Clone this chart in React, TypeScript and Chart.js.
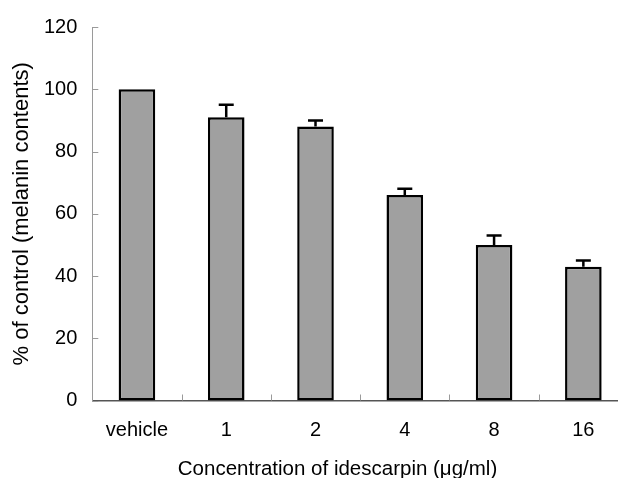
import React, { useEffect, useRef } from "react";
import { Chart, registerables } from "chart.js";

Chart.register(...registerables);

const categories = ["vehicle", "1", "2", "4", "8", "16"];
const values = [100, 91, 88, 66, 50, 43];
const errors = [0, 4, 2, 2, 3, 2];
const yTicks = [0, 20, 40, 60, 80, 100, 120];
const xTitle = "Concentration of idescarpin (μg/ml)";
const yTitle = "% of control (melanin contents)";

const FONT = "'Liberation Sans', Arial, sans-serif";

const inwardTicks = {
  id: "inwardTicks",
  afterDraw(chart: any) {
    const { ctx, chartArea, scales } = chart;
    const x = scales.x;
    const y = scales.y;
    ctx.save();
    ctx.strokeStyle = "#9a9a9a";
    ctx.lineWidth = 1;
    yTicks.forEach((v) => {
      const py = Math.round(y.getPixelForValue(v)) + 0.5;
      ctx.beginPath();
      ctx.moveTo(chartArea.left, py);
      ctx.lineTo(chartArea.left + 6, py);
      ctx.stroke();
    });
    for (let i = 1; i < categories.length; i++) {
      const px =
        Math.round((x.getPixelForValue(i - 1) + x.getPixelForValue(i)) / 2) + 0.5;
      ctx.beginPath();
      ctx.moveTo(px, chartArea.bottom);
      ctx.lineTo(px, chartArea.bottom - 6);
      ctx.stroke();
    }
    ctx.restore();
  },
};

const xTitlePlugin = {
  id: "xTitlePlugin",
  afterDraw(chart: any) {
    const { ctx } = chart;
    ctx.save();
    ctx.fillStyle = "#000";
    ctx.font = `20.5px ${FONT}`;
    ctx.textAlign = "center";
    ctx.textBaseline = "alphabetic";
    ctx.fillText(xTitle, 337.5, 475);
    ctx.restore();
  },
};

const errorBars = {
  id: "errorBars",
  afterDatasetsDraw(chart: any) {
    const { ctx, scales } = chart;
    const meta = chart.getDatasetMeta(0);
    ctx.save();
    ctx.strokeStyle = "#000";
    ctx.lineWidth = 2.5;
    meta.data.forEach((bar: any, i: number) => {
      if (!errors[i]) return;
      const px = bar.x;
      const top = scales.y.getPixelForValue(values[i]);
      const cap = scales.y.getPixelForValue(values[i] + errors[i]);
      ctx.beginPath();
      ctx.moveTo(px, top);
      ctx.lineTo(px, cap);
      ctx.moveTo(px - 7.5, cap);
      ctx.lineTo(px + 7.5, cap);
      ctx.stroke();
    });
    ctx.restore();
  },
};

export default function App() {
  const ref = useRef<HTMLCanvasElement>(null);
  useEffect(() => {
    document.body.style.overflow = "hidden";
    const chart = new Chart(ref.current!, {
      type: "bar",
      data: {
        labels: categories,
        datasets: [
          {
            data: values,
            backgroundColor: "#a0a0a0",
            borderColor: "#000",
            borderWidth: 2.5,
            borderSkipped: false,
            categoryPercentage: 1,
            barPercentage: 0.41,
          },
        ],
      },
      options: {
        responsive: false,
        animation: false,
        devicePixelRatio: 1,
        layout: { padding: { top: 25, left: 0, right: 0, bottom: 0 } },
        plugins: { legend: { display: false }, tooltip: { enabled: false } },
        scales: {
          x: {
            grid: { display: false, drawTicks: false },
            border: { display: true, color: "#555", width: 1.5 },
            ticks: { color: "#000", font: { family: FONT, size: 20 }, padding: 18 },
            title: { display: false },
            afterFit(scale: any) {
              scale.height = 77.5;
            },
          },
          y: {
            min: 0,
            max: 120,
            grid: { display: false, drawTicks: false },
            border: { display: true, color: "#9a9a9a", width: 1 },
            afterBuildTicks(scale: any) {
              scale.ticks = yTicks.map((v) => ({ value: v }));
            },
            ticks: { color: "#000", font: { family: FONT, size: 20 }, padding: 15 },
            title: {
              display: true,
              text: yTitle,
              color: "#000",
              font: { family: FONT, size: 22 },
              padding: { top: 9, bottom: 0 },
            },
            afterFit(scale: any) {
              scale.width = 92.3;
            },
          },
        },
      },
      plugins: [inwardTicks, errorBars, xTitlePlugin],
    });
    return () => chart.destroy();
  }, []);
  return (
    <div
      style={{
        position: "fixed",
        left: 0,
        top: 0,
        width: 618,
        height: 478,
        overflow: "hidden",
        background: "#fff",
      }}
    >
      <canvas ref={ref} width={628} height={478} style={{ display: "block" }} />
    </div>
  );
}
